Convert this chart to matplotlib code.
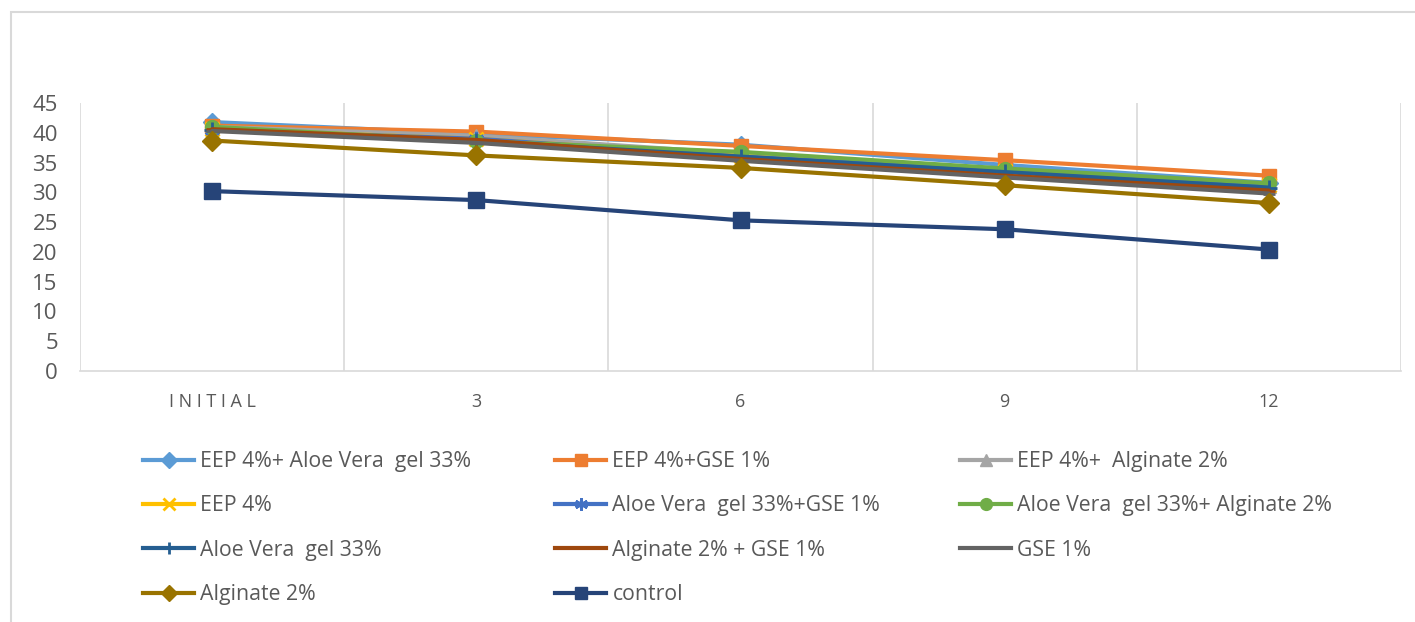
import matplotlib
matplotlib.use("Agg")
import matplotlib.pyplot as plt
from matplotlib.lines import Line2D
from matplotlib.patches import Rectangle

plt.rcParams['font.family'] = ['Open Sans', 'DejaVu Sans']

# Storage period categories
categories = ["INITIAL", "3", "6", "9", "12"]

# Series values per treatment
eep_aloe = [41.8, 39.8, 38.0, 34.6, 31.6]
eep_gse = [41.2, 40.2, 37.8, 35.4, 32.8]
eep_alginate = [41.0, 39.5, 36.5, 33.6, 31.0]
eep = [40.6, 39.0, 36.1, 33.6, 31.3]
aloe_gse = [40.5, 39.0, 36.0, 33.8, 31.0]
aloe_alginate = [41.0, 38.6, 36.8, 34.0, 31.5]
aloe = [40.5, 38.6, 36.0, 33.4, 30.8]
alginate_gse = [40.6, 38.8, 35.6, 32.8, 30.3]
gse = [40.3, 38.3, 35.3, 32.5, 29.8]
alginate = [38.7, 36.2, 34.1, 31.2, 28.2]
control = [30.2, 28.7, 25.3, 23.8, 20.4]

series_names = [
    "EEP 4%+ Aloe Vera  gel 33%",
    "EEP 4%+GSE 1%",
    "EEP 4%+  Alginate 2%",
    "EEP 4%",
    "Aloe Vera  gel 33%+GSE 1%",
    "Aloe Vera  gel 33%+ Alginate 2%",
    "Aloe Vera  gel 33%",
    "Alginate 2% + GSE 1%",
    "GSE 1%",
    "Alginate 2%",
    "control",
]
series_values = [eep_aloe, eep_gse, eep_alginate, eep, aloe_gse, aloe_alginate,
                 aloe, alginate_gse, gse, alginate, control]
colors = ["#5B9BD5", "#ED7D31", "#A5A5A5", "#FFC000", "#4472C4", "#70AD47",
          "#255E91", "#9E480E", "#636363", "#997300", "#264478"]
markers = ["D", "s", "^", "x", (6, 2, 0), "o", "+", "_", "_", "D", "s"]
msizes = [9, 10, 10, 10, 11, 10, 11, 9, 9, 10, 11]
line_markers = ("x", "+", (6, 2, 0), "_")

text_color = "#595959"
grid_color = "#D9D9D9"

fig = plt.figure(figsize=(14.15, 6.22), dpi=100)
W, H = 1415, 622

# Chart area frame
fig.patches.append(Rectangle((11 / W, -0.01), 1.0, 1 - 12 / H + 0.01,
                             transform=fig.transFigure, fill=False,
                             edgecolor=grid_color, linewidth=1.5))

ax = fig.add_axes([80 / W, 1 - 371 / H, (1401 - 80) / W, (371 - 103) / H])
x = list(range(len(categories)))

for vals, name, c, m, ms in zip(series_values, series_names, colors, markers, msizes):
    ax.plot(x, vals, color=c, lw=3, marker=m, markersize=ms,
            markeredgewidth=2 if m in line_markers else 1,
            markeredgecolor=c, markerfacecolor=c, label=name,
            solid_capstyle="round")

ax.set_xlim(-0.5, len(categories) - 0.5)
ax.set_ylim(0, 45)
ax.set_yticks(range(0, 50, 5))
ax.set_xticks(x)
ax.set_xticklabels([" ".join(c) if c.isalpha() else c for c in categories])
ax.tick_params(axis="both", length=0, colors=text_color)
ax.tick_params(axis="x", pad=16, labelsize=13)
ax.tick_params(axis="y", pad=16, labelsize=16)

# Vertical separators between categories
for b in [i - 0.5 for i in range(len(categories) + 1)]:
    ax.axvline(b, color=grid_color, lw=1.2, zorder=0)

for s in ["top", "right", "left"]:
    ax.spines[s].set_visible(False)
ax.spines["bottom"].set_color(grid_color)
ax.spines["bottom"].set_linewidth(1.2)

# Legend laid out in three columns
handles = [Line2D([0], [0], color=c, lw=3, marker=m, markersize=ms * 0.85,
                  markeredgewidth=2 if m in line_markers else 1,
                  markeredgecolor=c, markerfacecolor=c)
           for c, m, ms in zip(colors, markers, msizes)]
col_idx = [[0, 3, 6, 9], [1, 4, 7, 10], [2, 5, 8]]
col_x = [143, 555, 960]
for xs, idx in zip(col_x, col_idx):
    fig.legend([handles[i] for i in idx], [series_names[i] for i in idx],
               loc="upper left", bbox_to_anchor=(xs / W, 1 - 451 / H),
               frameon=False, fontsize=15.3, labelcolor=text_color,
               handlelength=2.4, handletextpad=0.3, labelspacing=1.1,
               borderaxespad=0, borderpad=0)

fig.savefig("out.png", dpi=100)
